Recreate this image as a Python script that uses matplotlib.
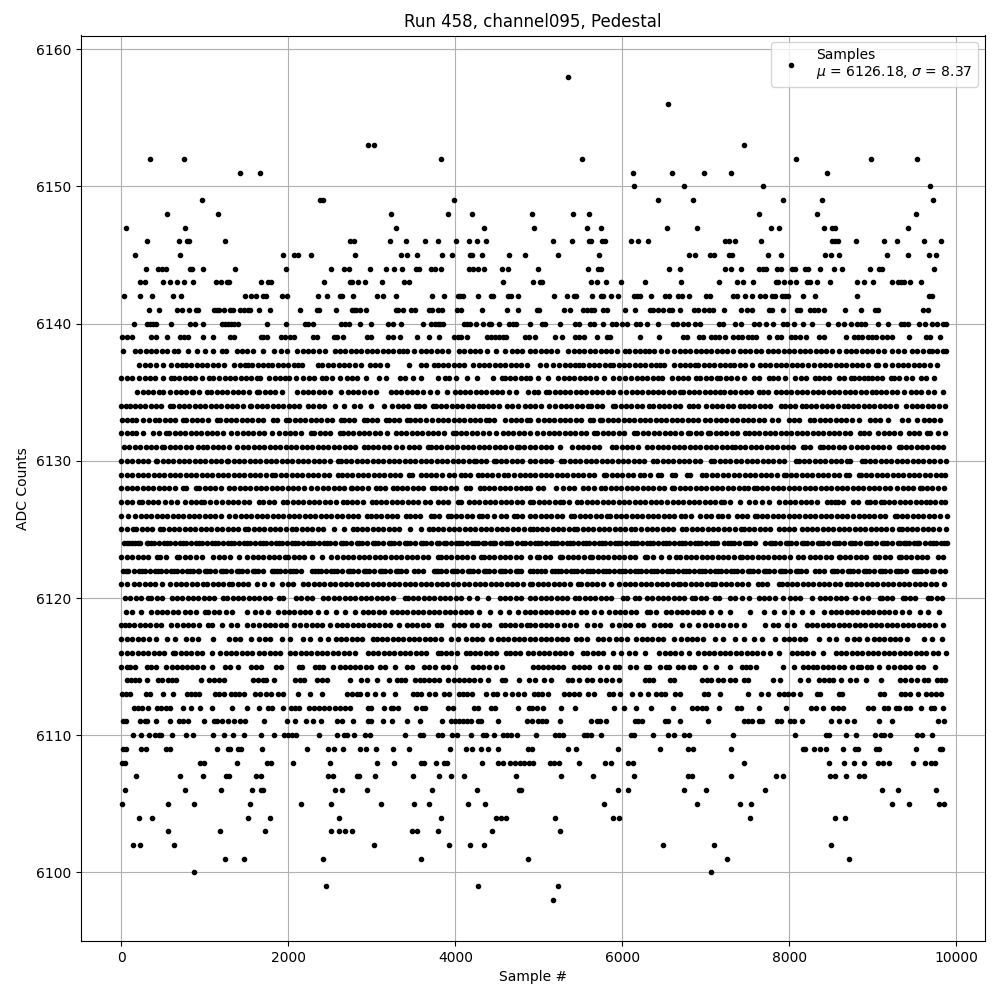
import matplotlib
matplotlib.use("Agg")
import matplotlib.pyplot as plt

# ================= DATA (one list per ADC level) =================
run_number = 458
channel = "channel095"
mean_adc = 6126.18
sigma_adc = 8.37

s6158 = [5352]
s6156 = [6552]
s6153 = [2948, 3020, 7452]
s6152 = [344, 752, 3824, 5520, 8076, 8976, 9528]
s6151 = [1424, 1664, 6132, 6600, 6984, 7308, 8448]
s6150 = [6144, 6744, 7680, 9684]
s6149 = [968, 2380, 2420, 3980, 6432, 6852, 7920, 8388, 9720]
s6148 = [548, 1160, 3224, 3908, 4196, 4920, 5412, 5604, 7632, 8328, 9516]
s6147 = [56, 764, 3284, 4340, 4944, 5580, 5748, 6540, 6900, 7776, 7872, 8412, 8508, 8544, 9420]
s6146 = [308, 692, 788, 812, 1244, 2740, 2780, 3212, 3404, 3632, 3788, 4004, 4160, 4256, 4364, 5172, 5400, 5604, 5628, 5760, 5792, 6108, 6192, 6312, 7236, 7284, 7352, 7656, 8508, 8544, 8580, 8796, 9132, 9288, 9612, 9816]
s6145 = [164, 704, 1940, 2072, 2120, 2276, 2792, 3344, 3416, 3536, 3836, 3956, 4172, 4204, 4316, 4640, 4832, 5232, 5724, 6804, 6876, 7056, 7104, 7284, 7320, 7740, 7896, 8424, 8496, 8592, 9168, 9420, 9672, 9756]
s6144 = [296, 440, 480, 528, 824, 848, 980, 1364, 1976, 2516, 2660, 2720, 2972, 3164, 3260, 3356, 3532, 3560, 3712, 3752, 3824, 4160, 4212, 4268, 4340, 4564, 4628, 4992, 5592, 5712, 5748, 6564, 6696, 7236, 7308, 7416, 7632, 7680, 7720, 7848, 7896, 8028, 8064, 8184, 8220, 8364, 8532, 8628, 8964, 9072, 9108, 9732]
s6143 = [224, 284, 500, 584, 668, 752, 860, 1136, 1196, 1264, 1288, 1676, 1760, 1792, 2432, 2732, 2756, 2828, 2912, 3116, 3380, 3440, 4568, 4932, 5016, 5040, 5628, 5700, 5808, 5988, 6276, 6708, 7164, 7368, 7440, 7560, 7836, 7860, 7932, 8004, 8076, 8208, 8244, 8328, 8484, 8808, 8892, 9000, 9228, 9300, 9340, 9372, 9444, 9576]
s6142 = [32, 224, 368, 620, 716, 1484, 1556, 1616, 1700, 1732, 1928, 1980, 2360, 2468, 2612, 2644, 2768, 3056, 3128, 3284, 3716, 3860, 4028, 4060, 4092, 4268, 4428, 4452, 4628, 4668, 4748, 5184, 5340, 5424, 5448, 5640, 5748, 5772, 5868, 5952, 6144, 6180, 6216, 6348, 6516, 6564, 6672, 6720, 6804, 7008, 7056, 7332, 7368, 7464, 7548, 7644, 7704, 7788, 7824, 7908, 7944, 7980, 8160, 8304, 8808, 9672, 9708]
s6141 = [332, 452, 668, 728, 812, 892, 920, 1112, 1140, 1172, 1228, 1300, 1332, 1424, 1472, 1520, 1540, 1652, 1784, 2144, 2348, 2372, 2564, 2756, 2780, 2804, 2852, 2924, 3284, 3312, 3368, 3464, 3512, 3680, 3720, 3788, 3840, 4016, 4064, 4316, 4616, 4748, 4980, 5004, 5304, 5376, 5532, 5580, 5628, 5664, 5772, 5820, 6036, 6156, 6336, 6372, 6432, 6492, 6564, 6600, 6696, 6864, 6912, 6984, 7044, 7092, 7224, 7416, 7488, 7548, 7752, 7788, 7920, 8088, 8124, 8244, 8292, 8340, 8412, 8664, 8856, 9024, 9060, 9600, 9660]
s6140 = [152, 308, 340, 372, 412, 596, 824, 876, 980, 1208, 1244, 1280, 1316, 1352, 1400, 1748, 1976, 2204, 2240, 2300, 2624, 2672, 2720, 2852, 2984, 3188, 3248, 3348, 3608, 3704, 3752, 3788, 3820, 3852, 4100, 4140, 4172, 4244, 4328, 4400, 4428, 4520, 4640, 4688, 4732, 4892, 5040, 5076, 5256, 5436, 5484, 5616, 5664, 5772, 5880, 5928, 6000, 6060, 6168, 6216, 6300, 6432, 6612, 6660, 6732, 6792, 6876, 6936, 7164, 7212, 7344, 7416, 7572, 7632, 7716, 7800, 7920, 7968, 8052, 8160, 8268, 8460, 8580, 8652, 8736, 8808, 8856, 8904, 9060, 9180, 9336, 9372, 9420, 9552, 9624, 9708, 9768, 9840, 9876]
s6139 = [4, 68, 128, 356, 416, 548, 704, 752, 800, 980, 1100, 1304, 1352, 1668, 1700, 1748, 1916, 1964, 2020, 2072, 2300, 2348, 2540, 2576, 2648, 2936, 2984, 3188, 3248, 3332, 3536, 3680, 3800, 3980, 4028, 4064, 4136, 4380, 4428, 4476, 4524, 4572, 4608, 4832, 4880, 4956, 5196, 5280, 5436, 5484, 5544, 5700, 5820, 5856, 6216, 6444, 6732, 6780, 6924, 6972, 7068, 7116, 7164, 7236, 7332, 7380, 7428, 7500, 7548, 7596, 7752, 7848, 7896, 8016, 8064, 8124, 8196, 8352, 8412, 8676, 8772, 8820, 8876, 8940, 8988, 9036, 9108, 9168, 9228, 9432, 9636, 9684, 9804]
s6138 = [20, 160, 224, 288, 352, 416, 480, 544, 628, 680, 800, 900, 1000, 1100, 1200, 1252, 1380, 1444, 1508, 1572, 1692, 1828, 1908, 1988, 2108, 2172, 2236, 2300, 2364, 2440, 2552, 2616, 2680, 2744, 2808, 2872, 2936, 3000, 3064, 3128, 3192, 3256, 3320, 3372, 3420, 3500, 3588, 3644, 3710, 3776, 3842, 3908, 4040, 4105, 4170, 4235, 4300, 4380, 4488, 4592, 4680, 4740, 4800, 4892, 4956, 5020, 5084, 5148, 5220, 5352, 5416, 5480, 5544, 5608, 5672, 5740, 5804, 5868, 5932, 6032, 6084, 6148, 6212, 6276, 6324, 6384, 6460, 6540, 6624, 6688, 6752, 6816, 6880, 6944, 7000, 7068, 7132, 7196, 7260, 7332, 7404, 7468, 7532, 7596, 7656, 7740, 7804, 7868, 7932, 7996, 8060, 8124, 8188, 8252, 8316, 8380, 8444, 8508, 8592, 8676, 8740, 8804, 8868, 8932, 8996, 9060, 9132, 9228, 9300, 9372, 9468, 9536, 9604, 9672, 9708, 9772, 9836, 9876]
s6137 = [212, 276, 340, 412, 500, 596, 660, 720, 772, 836, 900, 964, 1028, 1092, 1156, 1232, 1352, 1416, 1480, 1520, 1568, 1632, 1696, 1760, 1808, 1872, 1936, 2000, 2064, 2120, 2168, 2360, 2408, 2472, 2536, 2600, 2664, 2728, 2792, 2864, 2972, 3036, 3100, 3176, 3440, 3588, 3652, 3740, 3788, 3852, 3916, 3980, 4044, 4100, 4208, 4280, 4344, 4408, 4472, 4536, 4600, 4664, 4728, 4792, 4860, 5016, 5080, 5172, 5244, 5308, 5372, 5436, 5484, 5532, 5596, 5660, 5724, 5788, 5856, 5892, 5956, 6020, 6084, 6148, 6212, 6276, 6340, 6408, 6456, 6504, 6624, 6688, 6752, 6816, 6876, 6912, 6976, 7040, 7104, 7168, 7232, 7296, 7340, 7404, 7468, 7548, 7644, 7708, 7772, 7836, 7900, 7964, 8028, 8092, 8156, 8220, 8292, 8364, 8428, 8492, 8556, 8620, 8684, 8748, 8812, 8876, 8940, 9036, 9060, 9144, 9228, 9300, 9364, 9428, 9492, 9556, 9620, 9684, 9768]
s6136 = [0, 64, 128, 212, 276, 340, 400, 500, 596, 628, 692, 756, 820, 884, 968, 1052, 1100, 1172, 1236, 1300, 1364, 1428, 1492, 1556, 1620, 1664, 1772, 1836, 1900, 1964, 2012, 2096, 2180, 2244, 2308, 2408, 2456, 2520, 2612, 2696, 2760, 2824, 2924, 3080, 3164, 3332, 3396, 3488, 3584, 3788, 3872, 3920, 4004, 4136, 4260, 4448, 4556, 4592, 4656, 4720, 4784, 4848, 4900, 4992, 5112, 5232, 5296, 5360, 5424, 5488, 5552, 5616, 5688, 5784, 5892, 5964, 6036, 6108, 6172, 6236, 6300, 6364, 6428, 6480, 6600, 6664, 6728, 6792, 6888, 6936, 7000, 7064, 7140, 7176, 7240, 7304, 7368, 7452, 7572, 7636, 7752, 7800, 7864, 7944, 8072, 8136, 8200, 8304, 8352, 8416, 8480, 8592, 8656, 8736, 8772, 8836, 8900, 8940, 8988, 9052, 9116, 9216, 9252, 9316, 9396, 9468, 9576, 9640, 9732]
s6135 = [188, 252, 316, 380, 452, 500, 584, 648, 712, 776, 848, 860, 924, 1028, 1076, 1140, 1204, 1268, 1332, 1396, 1460, 1524, 1628, 1652, 1716, 1780, 1844, 1928, 2108, 2172, 2236, 2300, 2364, 2432, 2504, 2624, 2708, 2772, 2836, 2900, 2972, 3044, 3224, 3288, 3352, 3416, 3480, 3544, 3608, 3692, 3776, 3896, 3992, 4052, 4116, 4180, 4244, 4308, 4372, 4436, 4500, 4564, 4640, 4724, 4868, 4940, 4992, 5088, 5124, 5188, 5252, 5316, 5376, 5440, 5504, 5568, 5632, 5696, 5760, 5824, 5888, 5976, 6048, 6112, 6176, 6240, 6304, 6368, 6432, 6492, 6556, 6620, 6696, 6732, 6796, 6860, 6924, 6988, 7052, 7116, 7176, 7224, 7288, 7352, 7416, 7480, 7544, 7632, 7680, 7744, 7836, 7896, 7960, 8024, 8088, 8152, 8216, 8280, 8344, 8408, 8472, 8536, 8600, 8664, 8728, 8792, 8856, 8920, 8988, 9036, 9100, 9164, 9228, 9292, 9372, 9456, 9520, 9584, 9660, 9732, 9840]
s6134 = [0, 60, 108, 156, 220, 284, 348, 412, 476, 580, 620, 684, 748, 812, 876, 940, 1004, 1068, 1132, 1196, 1260, 1324, 1388, 1452, 1540, 1556, 1620, 1688, 1748, 1812, 1876, 1940, 2004, 2068, 2132, 2240, 2300, 2364, 2428, 2552, 2660, 2780, 2852, 2984, 3140, 3236, 3308, 3372, 3436, 3524, 3560, 3624, 3728, 3764, 3828, 3892, 3956, 4020, 4084, 4148, 4212, 4280, 4328, 4392, 4456, 4520, 4616, 4676, 4756, 4836, 4892, 4956, 5020, 5124, 5196, 5260, 5324, 5388, 5452, 5516, 5592, 5628, 5692, 5756, 5892, 5916, 5980, 6044, 6108, 6172, 6236, 6324, 6372, 6436, 6500, 6564, 6628, 6692, 6804, 6852, 6912, 7008, 7072, 7136, 7200, 7264, 7328, 7404, 7452, 7516, 7580, 7644, 7708, 7772, 7896, 7944, 8008, 8072, 8148, 8196, 8260, 8324, 8388, 8452, 8516, 8580, 8652, 8700, 8764, 8828, 8892, 8956, 9020, 9084, 9148, 9212, 9276, 9396, 9468, 9532, 9596, 9660, 9724, 9788, 9864]
s6133 = [12, 64, 128, 176, 260, 324, 404, 452, 516, 580, 644, 740, 776, 840, 904, 968, 1032, 1148, 1184, 1248, 1312, 1376, 1440, 1504, 1568, 1632, 1696, 1820, 1860, 1976, 2012, 2076, 2140, 2204, 2268, 2332, 2396, 2460, 2524, 2624, 2660, 2724, 2788, 2900, 2936, 3000, 3064, 3164, 3200, 3264, 3328, 3416, 3452, 3516, 3580, 3644, 3716, 3788, 3852, 3916, 3980, 4044, 4108, 4172, 4236, 4300, 4364, 4400, 4464, 4592, 4664, 4728, 4792, 4856, 4900, 4992, 5056, 5120, 5184, 5248, 5312, 5376, 5440, 5504, 5616, 5652, 5736, 5760, 5824, 5888, 5952, 6016, 6080, 6144, 6208, 6272, 6336, 6400, 6464, 6528, 6592, 6656, 6720, 6784, 6848, 6912, 6996, 7056, 7120, 7184, 7248, 7312, 7376, 7440, 7504, 7568, 7632, 7696, 7788, 7860, 7992, 8056, 8120, 8244, 8292, 8364, 8428, 8492, 8556, 8620, 8684, 8748, 8832, 8964, 9028, 9092, 9180, 9348, 9428, 9528, 9612, 9676, 9740, 9804]
s6132 = [0, 64, 120, 176, 260, 380, 444, 536, 572, 636, 700, 764, 828, 892, 956, 1020, 1084, 1148, 1212, 1316, 1388, 1452, 1516, 1580, 1644, 1708, 1808, 1892, 1956, 2020, 2084, 2148, 2276, 2312, 2376, 2440, 2504, 2612, 2648, 2712, 2776, 2840, 2904, 2968, 3032, 3096, 3176, 3284, 3348, 3412, 3476, 3540, 3604, 3668, 3732, 3796, 3860, 3968, 4004, 4068, 4132, 4196, 4260, 4328, 4400, 4484, 4568, 4632, 4696, 4760, 4824, 4900, 4980, 5052, 5116, 5180, 5244, 5308, 5372, 5436, 5500, 5564, 5664, 5700, 5764, 5828, 5892, 5956, 6020, 6144, 6180, 6244, 6308, 6384, 6444, 6508, 6572, 6636, 6700, 6792, 6816, 6880, 6944, 7032, 7056, 7120, 7184, 7248, 7312, 7376, 7464, 7512, 7576, 7640, 7704, 7768, 7832, 7896, 7960, 8024, 8088, 8152, 8216, 8280, 8344, 8408, 8472, 8536, 8600, 8664, 8728, 8844, 8892, 8956, 9060, 9132, 9196, 9260, 9324, 9432, 9492, 9556, 9648, 9684, 9780, 9864]
s6131 = [32, 96, 160, 224, 288, 352, 416, 488, 512, 576, 640, 704, 768, 832, 920, 980, 1028, 1092, 1156, 1220, 1284, 1388, 1460, 1520, 1584, 1648, 1712, 1776, 1840, 1904, 1968, 2032, 2096, 2160, 2224, 2288, 2352, 2416, 2480, 2544, 2608, 2672, 2736, 2800, 2900, 2948, 3012, 3076, 3140, 3204, 3284, 3356, 3440, 3504, 3568, 3668, 3704, 3768, 3832, 3896, 3960, 4024, 4088, 4152, 4216, 4280, 4344, 4408, 4472, 4536, 4600, 4664, 4740, 4760, 4824, 4900, 4956, 5020, 5084, 5148, 5256, 5400, 5464, 5528, 5592, 5656, 5720, 5880, 5928, 5992, 6056, 6120, 6184, 6300, 6360, 6424, 6488, 6552, 6616, 6680, 6744, 6808, 6872, 6936, 7000, 7064, 7128, 7192, 7256, 7316, 7344, 7408, 7472, 7536, 7600, 7664, 7728, 7792, 7856, 7920, 7984, 8048, 8160, 8184, 8248, 8364, 8400, 8464, 8528, 8592, 8656, 8736, 8808, 8872, 8936, 9000, 9064, 9128, 9192, 9312, 9336, 9400, 9464, 9528, 9592, 9656, 9720, 9784, 9840]
s6130 = [0, 64, 128, 192, 256, 320, 408, 428, 492, 556, 620, 684, 748, 812, 876, 940, 1004, 1068, 1132, 1196, 1260, 1280, 1344, 1408, 1472, 1536, 1600, 1664, 1728, 1792, 1856, 1920, 1984, 2048, 2112, 2176, 2240, 2304, 2368, 2432, 2496, 2588, 2624, 2688, 2752, 2816, 2880, 2944, 3008, 3072, 3136, 3200, 3264, 3328, 3392, 3456, 3520, 3584, 3648, 3712, 3776, 3840, 3904, 3968, 4032, 4096, 4160, 4220, 4244, 4308, 4372, 4460, 4484, 4548, 4612, 4676, 4740, 4804, 4900, 4956, 5020, 5084, 5148, 5268, 5304, 5368, 5432, 5496, 5560, 5624, 5688, 5752, 5816, 5880, 5944, 6008, 6072, 6136, 6200, 6264, 6372, 6420, 6484, 6548, 6612, 6676, 6740, 6804, 6868, 6932, 7068, 7104, 7168, 7232, 7296, 7360, 7424, 7488, 7552, 7616, 7680, 7744, 7808, 7872, 7936, 8076, 8112, 8176, 8240, 8304, 8368, 8432, 8496, 8560, 8624, 8692, 8724, 8868, 8904, 8968, 9032, 9096, 9160, 9224, 9288, 9352, 9416, 9480, 9544, 9608, 9672, 9736, 9800, 9876]
s6129 = [0, 64, 128, 192, 256, 320, 384, 448, 512, 576, 640, 704, 768, 832, 896, 960, 1024, 1088, 1152, 1216, 1280, 1344, 1408, 1472, 1536, 1600, 1664, 1728, 1800, 1844, 1916, 1976, 2040, 2104, 2168, 2232, 2296, 2360, 2424, 2488, 2588, 2636, 2700, 2764, 2828, 2892, 2956, 3020, 3084, 3148, 3212, 3276, 3340, 3440, 3480, 3584, 3644, 3708, 3772, 3836, 3920, 3980, 4064, 4112, 4176, 4268, 4316, 4380, 4444, 4508, 4580, 4628, 4700, 4772, 4836, 4900, 4956, 5020, 5084, 5148, 5212, 5276, 5340, 5404, 5468, 5532, 5596, 5660, 5784, 5808, 5872, 5936, 6000, 6064, 6128, 6216, 6264, 6328, 6432, 6468, 6600, 6636, 6780, 6816, 6960, 7008, 7072, 7136, 7212, 7272, 7336, 7400, 7464, 7528, 7592, 7656, 7720, 7784, 7848, 7932, 7956, 8020, 8084, 8148, 8212, 8276, 8340, 8404, 8468, 8532, 8596, 8676, 8712, 8832, 8856, 8920, 8984, 9048, 9112, 9176, 9240, 9304, 9368, 9432, 9496, 9560, 9624, 9688, 9752, 9816, 9864]
s6128 = [0, 64, 124, 188, 252, 316, 380, 444, 508, 572, 636, 740, 776, 896, 932, 996, 1060, 1124, 1188, 1292, 1352, 1416, 1480, 1544, 1608, 1672, 1736, 1800, 1864, 1928, 1992, 2056, 2120, 2192, 2276, 2348, 2412, 2476, 2540, 2604, 2664, 2744, 2756, 2820, 2884, 2948, 3044, 3092, 3156, 3248, 3296, 3360, 3424, 3488, 3552, 3616, 3716, 3752, 3816, 3880, 3944, 4008, 4124, 4172, 4292, 4340, 4404, 4468, 4532, 4596, 4660, 4724, 4788, 4852, 4900, 4992, 5052, 5208, 5292, 5356, 5420, 5532, 5592, 5656, 5748, 5796, 5860, 5924, 5988, 6052, 6116, 6180, 6244, 6308, 6372, 6436, 6500, 6600, 6624, 6688, 6752, 6816, 6880, 6944, 7008, 7072, 7136, 7200, 7264, 7328, 7392, 7452, 7500, 7572, 7608, 7672, 7736, 7800, 7864, 7928, 7992, 8056, 8120, 8184, 8248, 8312, 8376, 8440, 8504, 8568, 8632, 8696, 8760, 8824, 8888, 8952, 9016, 9080, 9144, 9208, 9288, 9360, 9424, 9488, 9564, 9588, 9652, 9716, 9780, 9852]
s6127 = [0, 64, 128, 212, 248, 312, 376, 440, 524, 596, 668, 764, 828, 892, 956, 992, 1056, 1136, 1208, 1272, 1336, 1400, 1464, 1528, 1652, 1700, 1764, 1828, 1940, 1988, 2052, 2116, 2180, 2244, 2308, 2372, 2436, 2500, 2564, 2648, 2696, 2760, 2824, 2888, 2996, 3044, 3108, 3172, 3236, 3300, 3364, 3428, 3492, 3556, 3632, 3692, 3788, 3848, 3912, 4028, 4064, 4160, 4224, 4288, 4352, 4416, 4480, 4544, 4608, 4672, 4736, 4800, 4892, 4932, 4996, 5060, 5124, 5188, 5256, 5292, 5356, 5460, 5508, 5572, 5636, 5700, 5764, 5828, 5892, 5956, 6020, 6084, 6148, 6212, 6276, 6340, 6404, 6468, 6540, 6604, 6668, 6732, 6796, 6860, 6924, 6988, 7052, 7116, 7188, 7224, 7288, 7404, 7512, 7584, 7668, 7752, 7872, 7944, 8008, 8072, 8136, 8200, 8264, 8328, 8448, 8496, 8544, 8580, 8644, 8760, 8820, 8928, 8964, 9028, 9096, 9132, 9196, 9260, 9324, 9388, 9452, 9516, 9580, 9636, 9684, 9748, 9812, 9864]
s6126 = [0, 80, 164, 228, 292, 356, 420, 484, 548, 612, 676, 740, 804, 868, 932, 996, 1060, 1124, 1188, 1292, 1364, 1428, 1492, 1556, 1620, 1684, 1748, 1812, 1876, 1940, 2004, 2068, 2132, 2196, 2260, 2324, 2388, 2452, 2516, 2580, 2644, 2708, 2772, 2836, 2940, 2984, 3048, 3112, 3176, 3240, 3304, 3404, 3452, 3516, 3580, 3704, 3740, 3804, 3908, 3944, 4008, 4072, 4136, 4200, 4280, 4316, 4380, 4460, 4544, 4608, 4700, 4740, 4804, 4892, 4956, 5020, 5084, 5148, 5212, 5276, 5388, 5424, 5488, 5552, 5616, 5680, 5744, 5820, 5856, 5920, 5984, 6048, 6112, 6176, 6240, 6304, 6368, 6432, 6496, 6560, 6624, 6708, 6756, 6820, 6936, 7000, 7064, 7152, 7200, 7264, 7368, 7428, 7492, 7584, 7608, 7672, 7736, 7800, 7864, 7928, 7992, 8056, 8120, 8184, 8248, 8312, 8376, 8440, 8504, 8568, 8632, 8696, 8760, 8832, 8892, 8956, 9020, 9084, 9148, 9264, 9288, 9352, 9416, 9480, 9544, 9608, 9672, 9736, 9800, 9888]
s6125 = [0, 64, 140, 176, 240, 304, 368, 464, 500, 564, 628, 692, 756, 820, 884, 948, 1012, 1076, 1148, 1208, 1272, 1336, 1400, 1484, 1520, 1584, 1648, 1712, 1776, 1840, 1904, 1968, 2048, 2096, 2160, 2224, 2288, 2352, 2416, 2540, 2660, 2768, 2816, 2880, 2944, 3008, 3072, 3136, 3200, 3264, 3328, 3452, 3584, 3680, 3728, 3792, 3856, 3920, 3984, 4048, 4112, 4176, 4240, 4304, 4368, 4432, 4496, 4560, 4624, 4688, 4752, 4820, 4892, 4932, 4972, 5036, 5100, 5164, 5228, 5292, 5356, 5424, 5460, 5524, 5588, 5652, 5716, 5780, 5844, 5908, 5972, 6036, 6100, 6156, 6228, 6292, 6356, 6420, 6484, 6548, 6612, 6720, 6768, 6832, 6896, 6960, 7024, 7088, 7152, 7216, 7280, 7344, 7416, 7452, 7516, 7580, 7644, 7708, 7772, 7872, 7932, 7996, 8060, 8148, 8208, 8272, 8336, 8400, 8464, 8528, 8592, 8656, 8720, 8784, 8848, 8912, 8976, 9036, 9100, 9164, 9228, 9312, 9348, 9408, 9472, 9536, 9600, 9664, 9728, 9792, 9876]
s6124 = [32, 96, 160, 224, 300, 320, 384, 448, 512, 576, 640, 704, 768, 832, 896, 960, 1024, 1088, 1152, 1216, 1280, 1344, 1408, 1472, 1536, 1600, 1664, 1728, 1792, 1856, 1920, 1984, 2048, 2112, 2176, 2240, 2304, 2368, 2432, 2496, 2560, 2624, 2688, 2752, 2816, 2880, 2944, 3008, 3072, 3136, 3200, 3264, 3328, 3392, 3456, 3520, 3584, 3648, 3712, 3776, 3860, 3884, 3948, 4012, 4076, 4140, 4204, 4268, 4328, 4352, 4416, 4480, 4544, 4608, 4672, 4736, 4800, 4900, 4956, 5020, 5084, 5148, 5212, 5276, 5340, 5404, 5468, 5532, 5596, 5660, 5724, 5788, 5852, 5916, 5980, 6044, 6108, 6172, 6236, 6300, 6364, 6428, 6492, 6556, 6620, 6684, 6748, 6812, 6876, 6940, 7004, 7068, 7132, 7224, 7272, 7336, 7400, 7464, 7528, 7592, 7704, 7764, 7828, 7892, 7956, 8020, 8084, 8148, 8212, 8276, 8340, 8404, 8468, 8532, 8596, 8660, 8724, 8788, 8852, 8916, 8980, 9044, 9108, 9172, 9236, 9300, 9372, 9396, 9432, 9496, 9560, 9624, 9688, 9752, 9816, 9888,
         64, 128, 192, 352, 544, 736, 928, 1120, 1312, 1504, 1696, 1888, 2080, 2272, 2464, 2656, 2848, 3040, 3232, 3424, 3616, 3808, 4044, 4236, 4448, 4640, 4832, 4988, 5180, 5372, 5564, 5756, 5948, 6140, 6332, 6524, 6716, 6908, 7100, 7304, 7496, 7796, 7988, 8180, 8372, 8564, 8756, 8948, 9140, 9332, 9528, 9720, 9852]
s6123 = [0, 64, 128, 192, 256, 320, 428, 464, 528, 668, 692, 756, 820, 896, 968, 1100, 1172, 1232, 1296, 1412, 1508, 1572, 1636, 1700, 1764, 1828, 1892, 1964, 2000, 2064, 2128, 2192, 2288, 2408, 2516, 2576, 2648, 2712, 2776, 2840, 2904, 2968, 3032, 3096, 3160, 3224, 3288, 3352, 3416, 3480, 3544, 3608, 3668, 3788, 3824, 3888, 3952, 4016, 4080, 4144, 4208, 4304, 4340, 4404, 4468, 4532, 4596, 4660, 4724, 4788, 4892, 4980, 5004, 5068, 5132, 5256, 5280, 5344, 5408, 5472, 5536, 5616, 5640, 5704, 5768, 5832, 5896, 5960, 6024, 6088, 6152, 6276, 6300, 6364, 6468, 6564, 6648, 6696, 6760, 6824, 6888, 6952, 7016, 7080, 7144, 7208, 7272, 7336, 7404, 7428, 7492, 7556, 7620, 7684, 7748, 7812, 7876, 7940, 8004, 8100, 8160, 8244, 8308, 8372, 8436, 8500, 8592, 8604, 8668, 8732, 8796, 8860, 8924, 9024, 9072, 9144, 9208, 9312, 9336, 9400, 9464, 9528, 9592, 9656, 9780, 9840]
s6122 = [20, 84, 148, 212, 276, 340, 404, 468, 532, 596, 660, 724, 788, 852, 920, 932, 996, 1060, 1124, 1188, 1252, 1316, 1380, 1444, 1508, 1572, 1636, 1700, 1808, 1832, 1896, 1960, 2024, 2088, 2152, 2288, 2324, 2388, 2452, 2516, 2580, 2644, 2708, 2772, 2836, 2900, 2964, 3028, 3092, 3156, 3220, 3284, 3348, 3412, 3500, 3548, 3612, 3740, 3764, 3828, 3892, 3956, 4020, 4084, 4148, 4212, 4276, 4340, 4404, 4468, 4532, 4596, 4660, 4724, 4788, 4900, 4932, 4980, 5028, 5076, 5160, 5196, 5260, 5324, 5388, 5452, 5516, 5580, 5644, 5708, 5772, 5836, 5900, 5964, 6028, 6092, 6156, 6220, 6284, 6348, 6412, 6476, 6540, 6604, 6668, 6732, 6796, 6860, 6924, 6988, 7052, 7116, 7180, 7244, 7308, 7372, 7436, 7500, 7564, 7628, 7692, 7756, 7820, 7884, 7948, 8012, 8076, 8140, 8204, 8304, 8352, 8412, 8508, 8572, 8636, 8700, 8764, 8828, 8892, 8956, 9020, 9084, 9148, 9212, 9276, 9340, 9404, 9492, 9516, 9580, 9644, 9708, 9804, 9864,
         52, 244, 436, 628, 820, 1028, 1220, 1412, 1604, 1864, 2056, 2356, 2548, 2740, 2932, 3124, 3316, 3796, 3988, 4180, 4372, 4564, 4756, 5228, 5420, 5612, 5804, 5996, 6188, 6380, 6572, 6764, 6956, 7148, 7340, 7532, 7724, 7916, 8108, 8540, 8732, 8924, 9116, 9308, 9548, 9740]
s6121 = [0, 68, 152, 212, 276, 340, 404, 488, 584, 648, 712, 776, 840, 904, 980, 1028, 1092, 1156, 1220, 1292, 1328, 1392, 1456, 1520, 1628, 1712, 1808, 1928, 1992, 2056, 2180, 2240, 2304, 2368, 2432, 2496, 2560, 2624, 2688, 2752, 2816, 2880, 2944, 3008, 3072, 3136, 3200, 3264, 3328, 3392, 3456, 3520, 3584, 3648, 3712, 3776, 3840, 3904, 3968, 4032, 4100, 4160, 4232, 4296, 4360, 4424, 4488, 4552, 4616, 4680, 4744, 4808, 4892, 4920, 4984, 5048, 5112, 5176, 5240, 5304, 5368, 5472, 5508, 5572, 5636, 5700, 5764, 5868, 5964, 6028, 6092, 6156, 6220, 6284, 6348, 6412, 6476, 6540, 6604, 6672, 6696, 6756, 6820, 6884, 6948, 7012, 7080, 7116, 7180, 7244, 7308, 7372, 7436, 7500, 7620, 7668, 7732, 7872, 7908, 7968, 8032, 8096, 8160, 8224, 8288, 8352, 8416, 8480, 8544, 8608, 8692, 8736, 8800, 8864, 8928, 8992, 9056, 9120, 9184, 9248, 9312, 9376, 9440, 9504, 9568, 9632, 9696, 9760, 9852]
s6120 = [44, 108, 172, 236, 320, 356, 420, 484, 608, 668, 728, 792, 856, 920, 984, 1048, 1112, 1220, 1268, 1332, 1396, 1460, 1524, 1588, 1652, 1716, 1780, 1892, 1940, 2096, 2156, 2220, 2284, 2420, 2480, 2544, 2608, 2672, 2736, 2800, 2864, 2928, 2992, 3056, 3120, 3184, 3248, 3392, 3428, 3492, 3556, 3620, 3684, 3748, 3812, 3876, 3940, 4004, 4068, 4160, 4260, 4388, 4532, 4596, 4660, 4724, 4788, 4900, 4956, 5020, 5084, 5148, 5212, 5276, 5340, 5436, 5484, 5548, 5612, 5676, 5740, 5804, 5868, 6012, 6060, 6156, 6204, 6300, 6360, 6424, 6488, 6552, 6616, 6680, 6744, 6840, 6876, 6940, 7004, 7116, 7164, 7296, 7344, 7428, 7512, 7632, 7696, 7760, 7824, 7920, 8004, 8068, 8132, 8268, 8364, 8428, 8492, 8556, 8620, 8684, 8784, 8868, 8940, 9084, 9108, 9172, 9236, 9360, 9384, 9448, 9512, 9660, 9696, 9768, 9828]
s6119 = [56, 120, 232, 356, 420, 484, 548, 612, 676, 764, 824, 888, 1004, 1040, 1104, 1168, 1256, 1328, 1508, 1604, 1668, 1760, 1880, 1944, 2008, 2072, 2136, 2200, 2264, 2360, 2456, 2564, 2672, 2792, 2888, 2952, 3016, 3080, 3144, 3236, 3296, 3360, 3424, 3488, 3552, 3616, 3680, 3744, 3808, 3872, 3936, 4000, 4064, 4128, 4188, 4280, 4412, 4532, 4640, 4748, 4832, 4892, 4956, 5020, 5084, 5148, 5212, 5276, 5340, 5404, 5504, 5568, 5664, 5748, 5844, 5908, 5972, 6036, 6100, 6164, 6300, 6336, 6400, 6528, 6588, 6652, 6716, 6780, 6844, 6908, 6972, 7068, 7176, 7296, 7524, 7692, 7812, 7932, 8028, 8148, 8268, 8412, 8496, 8560, 8624, 8688, 8752, 8816, 8880, 8944, 9008, 9072, 9136, 9200, 9264, 9348, 9432, 9564, 9660, 9792]
s6118 = [0, 44, 88, 152, 216, 280, 344, 408, 472, 596, 668, 732, 796, 860, 924, 1040, 1088, 1208, 1316, 1388, 1508, 1580, 1652, 1716, 1780, 1844, 1908, 1972, 2072, 2144, 2216, 2280, 2344, 2408, 2504, 2576, 2640, 2704, 2768, 2832, 2896, 2960, 3024, 3088, 3152, 3216, 3320, 3416, 3480, 3544, 3608, 3672, 3776, 3824, 3980, 4040, 4104, 4196, 4256, 4340, 4404, 4544, 4592, 4656, 4720, 4784, 4856, 4892, 4956, 5020, 5084, 5148, 5212, 5304, 5376, 5448, 5580, 5664, 5736, 5880, 5964, 6028, 6092, 6192, 6252, 6384, 6448, 6512, 6576, 6720, 6804, 6912, 6996, 7060, 7140, 7212, 7296, 7360, 7452, 7704, 7800, 7864, 7968, 8052, 8208, 8272, 8336, 8400, 8464, 8528, 8592, 8656, 8720, 8784, 8848, 8912, 8976, 9040, 9104, 9168, 9232, 9296, 9360, 9424, 9488, 9552, 9616, 9680, 9744, 9836]
s6117 = [0, 64, 128, 192, 256, 332, 416, 548, 644, 776, 848, 912, 1100, 1292, 1356, 1420, 1556, 1652, 1716, 1780, 1928, 2024, 2180, 2264, 2384, 2480, 2564, 2628, 2692, 2756, 2820, 2884, 3008, 3056, 3120, 3184, 3248, 3312, 3376, 3440, 3504, 3568, 3632, 3696, 3760, 3824, 3944, 4028, 4124, 4196, 4260, 4324, 4424, 4508, 4572, 4636, 4700, 4764, 4828, 4900, 4956, 5020, 5084, 5148, 5212, 5276, 5340, 5448, 5508, 5572, 5712, 5772, 5836, 5928, 5988, 6060, 6168, 6232, 6296, 6360, 6424, 6488, 6624, 6708, 6772, 6836, 6900, 6964, 7116, 7212, 7344, 7452, 7572, 7668, 7824, 7932, 7996, 8060, 8124, 8188, 8352, 8472, 8556, 8688, 8772, 8832, 8928, 9012, 9076, 9140, 9204, 9268, 9332, 9408, 9612, 9708, 9828]
s6116 = [0, 64, 128, 192, 256, 320, 384, 448, 512, 620, 644, 708, 772, 836, 900, 964, 1088, 1184, 1248, 1312, 1376, 1440, 1504, 1568, 1652, 1712, 1776, 1840, 1904, 2024, 2084, 2148, 2212, 2276, 2340, 2404, 2468, 2532, 2596, 2660, 2724, 2792, 2948, 3012, 3076, 3140, 3204, 3268, 3332, 3396, 3460, 3524, 3588, 3652, 3788, 3824, 3888, 3952, 4016, 4124, 4172, 4236, 4300, 4364, 4428, 4492, 4604, 4652, 4716, 4780, 4868, 4932, 4996, 5060, 5124, 5188, 5252, 5316, 5380, 5532, 5580, 5644, 5708, 5772, 5892, 5988, 6084, 6156, 6276, 6444, 6508, 6572, 6636, 6700, 6804, 6912, 6976, 7040, 7104, 7168, 7232, 7296, 7360, 7424, 7488, 7552, 7616, 7680, 7764, 7872, 8028, 8088, 8152, 8216, 8280, 8400, 8556, 8620, 8684, 8748, 8812, 8876, 8940, 9004, 9068, 9132, 9196, 9260, 9324, 9388, 9452, 9516, 9580, 9644, 9720, 9780, 9876]
s6115 = [0, 72, 108, 156, 308, 352, 412, 536, 608, 668, 728, 788, 848, 908, 980, 1088, 1244, 1304, 1400, 1556, 1616, 1676, 1856, 1916, 2132, 2168, 2324, 2372, 2420, 2528, 2612, 2672, 2732, 2792, 2852, 2924, 2984, 3092, 3152, 3280, 3416, 3476, 3620, 3680, 3752, 3848, 3908, 4000, 4208, 4268, 4328, 4400, 4484, 4556, 4932, 4992, 5052, 5112, 5172, 5232, 5292, 5424, 5484, 5544, 5604, 5736, 5820, 5916, 5964, 6096, 6168, 6284, 6324, 6456, 6528, 6564, 6672, 6732, 6816, 6864, 6996, 7128, 7296, 7428, 7476, 7524, 7596, 7920, 8052, 8160, 8220, 8280, 8328, 8400, 8460, 8520, 8592, 8652, 8748, 8820, 8856, 8928, 8976, 9072, 9180, 9252, 9324, 9384, 9444, 9540, 9600, 9744]
s6114 = [68, 116, 164, 212, 308, 440, 488, 560, 608, 656, 956, 1052, 1112, 1172, 1232, 1580, 1640, 1700, 1736, 1832, 2076, 2140, 2192, 2348, 2408, 2468, 2732, 2864, 2936, 3056, 3200, 3296, 3344, 3392, 3512, 3572, 3620, 3680, 3740, 3800, 3908, 3980, 4040, 4100, 4160, 4220, 4292, 4388, 4556, 4596, 4760, 4880, 4956, 5064, 5148, 5352, 5400, 5484, 5580, 5640, 5736, 5808, 5880, 5964, 6276, 6324, 6372, 6576, 6624, 6960, 7020, 7068, 7152, 7212, 7296, 7344, 7452, 7500, 7800, 7884, 8124, 8220, 8352, 8412, 8472, 8520, 8616, 8724, 8796, 8916, 9096, 9324, 9384, 9456, 9528, 9612, 9660, 9768, 9816, 9864]
s6113 = [8, 56, 100, 296, 344, 500, 620, 788, 836, 884, 932, 1124, 1172, 1232, 1316, 1364, 1412, 1472, 1604, 1664, 1736, 1796, 1880, 1940, 2120, 2264, 2408, 2696, 2756, 2816, 2852, 2936, 3032, 3128, 3272, 3488, 3536, 3584, 3680, 3752, 3860, 3920, 4040, 4088, 4136, 4196, 4364, 4448, 4496, 4592, 4676, 4748, 4820, 4944, 4992, 5040, 5112, 5304, 5364, 5424, 5484, 5592, 5664, 5844, 5892, 5976, 6120, 6216, 6312, 6408, 6468, 6516, 6636, 6696, 6984, 7032, 7176, 7500, 7656, 7740, 7872, 7932, 7980, 8040, 8124, 8328, 8364, 8592, 8628, 9084, 9132, 9336, 9384, 9444, 9540, 9636, 9696, 9756, 9816]
s6112 = [152, 200, 248, 320, 428, 476, 536, 584, 740, 836, 944, 1088, 1328, 1508, 1652, 1760, 1808, 1940, 2036, 2084, 2132, 2252, 2312, 2372, 2432, 2492, 2552, 2612, 2672, 2732, 2948, 2984, 3140, 3224, 3248, 3308, 3524, 3596, 3632, 3908, 3968, 4220, 4268, 4424, 4472, 4748, 4880, 4920, 4980, 5052, 5268, 5436, 5904, 6024, 6168, 6348, 6612, 6840, 6900, 6960, 7008, 7164, 7368, 7416, 7632, 7956, 8256, 8316, 8400, 8520, 8580, 8640, 8940, 9000, 9132, 9180, 9276, 9312, 9396, 9444, 9576, 9696, 9732, 9840]
s6111 = [20, 56, 224, 284, 308, 416, 584, 692, 740, 800, 992, 1112, 1148, 1208, 1280, 1352, 1424, 1484, 1704, 1988, 2084, 2216, 2300, 2396, 2576, 2636, 2768, 2948, 2984, 3128, 3236, 3416, 3572, 3836, 3944, 3992, 4040, 4088, 4136, 4184, 4268, 4304, 4508, 4856, 4920, 4992, 5040, 5088, 5256, 5628, 5700, 5736, 5808, 6156, 6192, 6240, 6516, 6552, 6696, 7032, 7452, 7500, 7548, 7632, 7668, 7848, 7896, 8004, 8052, 8148, 8496, 8592, 8688, 8772, 9072, 9228, 9780, 9852]
s6110 = [140, 236, 332, 404, 452, 476, 608, 776, 860, 1100, 1232, 1340, 1472, 1676, 1832, 1952, 2000, 2048, 2096, 2372, 2576, 2660, 2696, 2780, 2912, 2972, 3392, 3572, 3608, 3788, 3836, 3956, 4016, 4184, 4328, 4364, 4460, 4568, 4616, 4664, 4736, 4968, 5196, 5244, 5292, 5544, 5580, 5628, 5748, 6108, 6144, 6372, 6552, 6624, 6744, 6804, 7332, 8064, 8436, 8472, 8676, 8796, 9024, 9096, 9132, 9204, 9528, 9588, 9708]
s6109 = [20, 56, 236, 296, 536, 584, 1148, 1280, 1304, 1400, 1436, 1688, 2228, 2480, 2540, 2648, 2852, 2924, 3044, 3248, 3440, 3932, 4124, 4196, 4304, 4388, 4508, 4868, 4920, 5352, 5448, 5952, 6456, 6792, 6852, 7308, 8160, 8184, 8292, 8364, 8436, 8640, 8784, 8820, 9036, 9072, 9516, 9804, 9828]
s6108 = [8, 44, 944, 992, 1388, 1748, 1796, 2060, 2504, 3056, 3260, 3584, 3620, 3764, 3860, 3896, 4316, 4508, 4568, 4652, 4712, 4772, 4820, 4880, 4932, 5136, 5184, 5244, 5484, 5796, 5868, 6072, 6132, 7452, 8472, 8652, 8772, 8892, 9060, 9120, 9192, 9480, 9624, 9696, 9744]
s6107 = [176, 704, 980, 1256, 1292, 1616, 1676, 2480, 2528, 2816, 2840, 3032, 3488, 3800, 3944, 4100, 4724, 5268, 5652, 6144, 6792, 6840, 7308, 7836, 7920, 8484, 8544, 8676, 8832, 8892]
s6106 = [44, 764, 1196, 1568, 1676, 1700, 2552, 2636, 2936, 3716, 4256, 4760, 4784, 5952, 6072, 6744, 7008, 7704, 9108, 9300, 9756]
s6105 = [8, 560, 872, 1544, 2156, 2516, 3104, 3500, 3680, 4148, 4352, 5784, 6900, 7404, 7536, 9228, 9432, 9792, 9852]
s6104 = [212, 368, 1520, 1784, 2600, 3824, 4492, 4544, 4604, 5196, 5892, 5964, 7524, 8544, 8664]
s6103 = [560, 1184, 1724, 2516, 2600, 2672, 2756, 3476, 3536, 3788, 4436, 5256]
s6102 = [140, 224, 632, 3020, 3920, 4172, 4340, 6492, 7104, 8496]
s6101 = [1244, 1472, 2420, 3584, 4868, 7260, 8712]
s6100 = [872, 7068]
s6099 = [2456, 4268, 5232]
s6098 = [5172]

adc_levels = [6158, 6156, 6153, 6152, 6151, 6150, 6149, 6148, 6147, 6146, 6145, 6144, 6143, 6142, 6141, 6140,
              6139, 6138, 6137, 6136, 6135, 6134, 6133, 6132, 6131, 6130, 6129, 6128, 6127, 6126, 6125, 6124,
              6123, 6122, 6121, 6120, 6119, 6118, 6117, 6116, 6115, 6114, 6113, 6112, 6111, 6110, 6109, 6108,
              6107, 6106, 6105, 6104, 6103, 6102, 6101, 6100, 6099, 6098]
level_samples = [s6158, s6156, s6153, s6152, s6151, s6150, s6149, s6148, s6147, s6146, s6145, s6144, s6143, s6142, s6141, s6140,
                 s6139, s6138, s6137, s6136, s6135, s6134, s6133, s6132, s6131, s6130, s6129, s6128, s6127, s6126, s6125, s6124,
                 s6123, s6122, s6121, s6120, s6119, s6118, s6117, s6116, s6115, s6114, s6113, s6112, s6111, s6110, s6109, s6108,
                 s6107, s6106, s6105, s6104, s6103, s6102, s6101, s6100, s6099, s6098]

# ================= PLOT =================
sample_x = []
adc_y = []
for level, samples in zip(adc_levels, level_samples):
    sample_x.extend(samples)
    adc_y.extend([level] * len(samples))

fig, ax = plt.subplots(figsize=(10, 10), dpi=100)
ax.plot(sample_x, adc_y, ".", color="black",
        label=f"Samples\n$\\mu$ = {mean_adc:.2f}, $\\sigma$ = {sigma_adc:.2f}")
ax.set_xlim(-485, 10345)
ax.set_ylim(6095, 6161)
ax.set_title(f"Run {run_number}, {channel}, Pedestal")
ax.set_xlabel("Sample #")
ax.set_ylabel("ADC Counts")
ax.grid(True)
ax.legend(loc="upper right")
ax.set_position([0.081, 0.059, 0.904, 0.9055])
fig.savefig("out.png")
